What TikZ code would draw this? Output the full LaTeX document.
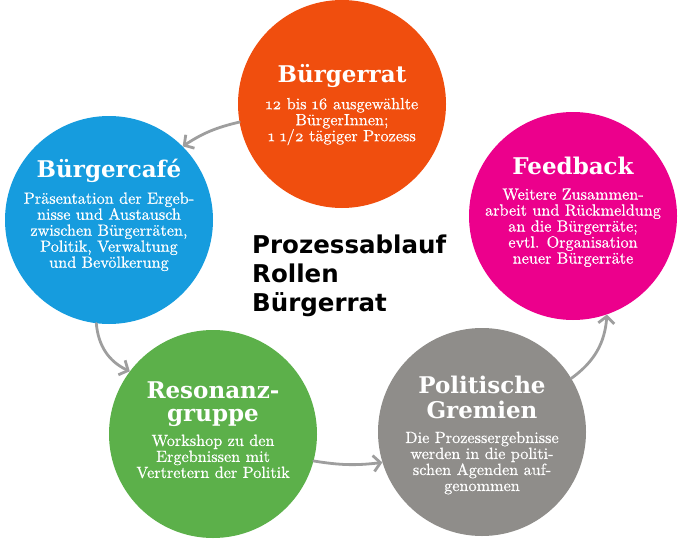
\documentclass[tikz,border=0pt]{standalone}
\usepackage{fontspec}
\newfontfamily\slab{DejaVu Serif}
\newfontfamily\grotesk{DejaVu Sans}
\newfontfamily\brot{lmroman10-regular.otf}[FakeBold=0.6,Numbers=OldStyle]
\usetikzlibrary{arrows.meta}
\definecolor{rot}{RGB}{240,78,14}
\definecolor{blau}{RGB}{22,156,222}
\definecolor{pinkfb}{RGB}{236,0,140}
\definecolor{gruen}{RGB}{92,176,74}
\definecolor{grau}{RGB}{143,141,138}
\definecolor{pfeilgrau}{RGB}{158,158,158}
\newcommand{\titel}[1]{{\slab\bfseries\fontsize{23}{24}\selectfont #1}}
\begin{document}
\begin{tikzpicture}[x=1pt,y=-1pt,
	kreis/.style={circle, inner sep=0pt, minimum size=208pt},
	inhalt/.style={text=white, align=center, inner sep=0pt, font=\brot\fontsize{16.2}{16}\selectfont},
	pfeil/.style={draw=pfeilgrau, line width=2.8pt, line cap=round, -{Straight Barb[length=7pt,width=16pt]}}]
		\useasboundingbox (0,0) rectangle (684,543);
		% Kreise
		\node [kreis, fill=rot] (rat) at (342,104) {};
		\node [kreis, fill=blau] (cafe) at (109,220) {};
		\node [kreis, fill=pinkfb] (feedback) at (573,216) {};
		\node [kreis, fill=gruen] (resonanz) at (213,434) {};
		\node [kreis, fill=grau] (gremien) at (482,432) {};
		% Texte
		\node [inhalt] (rattext) at (342,105) {\titel{Bürgerrat}\\[9pt]12 bis 16 ausgewählte\\BürgerInnen;\\1 1/2 tägiger Prozess};
		\node [inhalt] (cafetext) at (109,215) {\titel{Bürgercafé}\\[9pt]Präsentation der Ergeb-\\nisse und Austausch\\zwischen Bürgerräten,\\Politik, Verwaltung\\und Bevölkerung};
		\node [inhalt] (feedbacktext) at (573,212) {\titel{Feedback}\\[9pt]Weitere Zusammen-\\arbeit und Rückmeldung\\an die Bürgerräte;\\evtl. Organisation\\neuer Bürgerräte};
		\node [inhalt] (resonanztext) at (213,430) {\titel{Resonanz-}\\[7pt]\titel{gruppe}\\[7pt]Workshop zu den\\Ergebnissen mit\\Vertretern der Politik};
		\node [inhalt] (gremientext) at (482,435) {\titel{Politische}\\[7pt]\titel{Gremien}\\[8pt]Die Prozessergebnisse\\werden in die politi-\\schen Agenden auf-\\genommen};
		\node [anchor=north west, align=left, inner sep=0pt, font=\grotesk\bfseries\fontsize{24.5}{29}\selectfont] (titel) at (252,235) {Prozessablauf\\Rollen\\Bürgerrat};
		% Pfeile
		\draw [pfeil] (rat.190) to [bend right=10] (cafe.45);
		\draw [pfeil] (cafe.263) to [bend right=30] (resonanz.143);
		\draw [pfeil] (resonanz.-15) to [bend right=8] (gremien.197);
		\draw [pfeil] (gremien.31) to [bend right=25] (feedback.289);
		
\end{tikzpicture}
\end{document}
